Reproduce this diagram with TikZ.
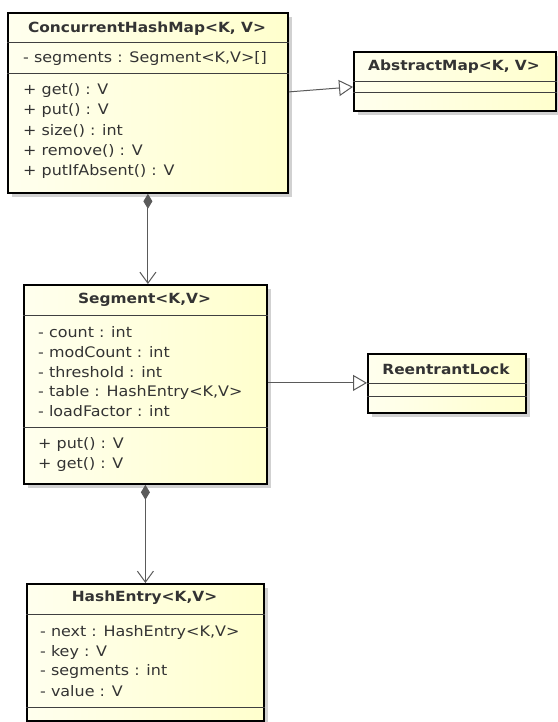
\documentclass[tikz,border=0pt]{standalone}
\usepackage{fontspec}
\setmainfont{DejaVu Sans}
\newfontfamily\umlfont[FakeStretch=1.1]{DejaVu Sans}
\usetikzlibrary{arrows.meta,shadows}
\definecolor{boxl}{RGB}{255,255,238}
\definecolor{boxr}{RGB}{255,255,205}
\definecolor{linec}{RGB}{90,90,90}
\begin{document}
\begin{tikzpicture}[x=1pt,y=-1pt,
  classbox/.style={draw=black, line width=1.8pt, rectangle, inner sep=0pt, anchor=north west,
     left color=boxl, right color=boxr,
     drop shadow={shadow xshift=4pt, shadow yshift=-4pt, fill=black!18, opacity=1}},
  sep/.style={draw=black!75, line width=1pt},
  ttl/.style={font=\umlfont\fontsize{14}{16}\selectfont\bfseries, text=black!80, inner sep=0pt, anchor=center},
  mem/.style={font=\umlfont\fontsize{14.5}{17}\selectfont, text=black!80, inner sep=0pt, anchor=west},
  gen/.style={draw=linec, line width=1pt, -{Triangle[open, length=14pt, width=16pt, line width=1pt]}},
  comp/.style={draw=linec, line width=1pt, {Diamond[length=15pt, width=9pt, fill=linec]}-{Straight Barb[length=11pt, width=16pt, line width=1pt]}}
]
\useasboundingbox[fill=white] (0,0) rectangle (557,722);

% ConcurrentHashMap
\node[classbox, minimum width=280pt, minimum height=180pt] (chm) at (7,12) {};
\draw[sep] (chm.west |- 0,43) -- (chm.east |- 0,43);
\draw[sep] (chm.west |- 0,74) -- (chm.east |- 0,74);
\node[ttl] (chmt) at (147,29) {ConcurrentHashMap<K, V>};
\node[mem] (chm1) at (23,59) {- segments : Segment<K,V>[]};
\node[mem] (chm2) at (23,91) {+ get() : V};
\node[mem] (chm3) at (23,111) {+ put() : V};
\node[mem] (chm4) at (23,131) {+ size() : int};
\node[mem] (chm5) at (23,151) {+ remove() : V};
\node[mem] (chm6) at (23,171) {+ putIfAbsent() : V};

% AbstractMap
\node[classbox, minimum width=202pt, minimum height=59pt] (am) at (353,51) {};
\draw[sep] (am.west |- 0,82) -- (am.east |- 0,82);
\draw[sep] (am.west |- 0,93) -- (am.east |- 0,93);
\node[ttl] (amt) at (454,67) {AbstractMap<K, V>};

% Segment
\node[classbox, minimum width=243pt, minimum height=199pt] (seg) at (23,284) {};
\draw[sep] (seg.west |- 0,315) -- (seg.east |- 0,315);
\draw[sep] (seg.west |- 0,427) -- (seg.east |- 0,427);
\node[ttl] (segt) at (144.5,300) {Segment<K,V>};
\node[mem] (seg1) at (38,332) {- count : int};
\node[mem] (seg2) at (38,352) {- modCount : int};
\node[mem] (seg3) at (38,372) {- threshold : int};
\node[mem] (seg4) at (38,392) {- table : HashEntry<K,V>};
\node[mem] (seg5) at (38,411) {- loadFactor : int};
\node[mem] (seg6) at (38,445) {+ put() : V};
\node[mem] (seg7) at (38,465) {+ get() : V};

% ReentrantLock
\node[classbox, minimum width=158pt, minimum height=59pt] (rl) at (367,353) {};
\draw[sep] (rl.west |- 0,383) -- (rl.east |- 0,383);
\draw[sep] (rl.west |- 0,396) -- (rl.east |- 0,396);
\node[ttl] (rlt) at (446,369) {ReentrantLock};

% HashEntry
\node[classbox, minimum width=237pt, minimum height=137pt] (he) at (26,583) {};
\draw[sep] (he.west |- 0,614) -- (he.east |- 0,614);
\draw[sep] (he.west |- 0,707) -- (he.east |- 0,707);
\node[ttl] (het) at (144.5,598) {HashEntry<K,V>};
\node[mem] (he1) at (40,632) {- next : HashEntry<K,V>};
\node[mem] (he2) at (40,652) {- key : V};
\node[mem] (he3) at (40,671) {- segments : int};
\node[mem] (he4) at (40,691) {- value : V};

% connectors
\draw[gen] ([yshift=11pt]chm.east) -- ([yshift=-5.5pt]am.west);
\draw[gen] ([yshift=1.5pt]seg.east) -- ([yshift=1.5pt]seg.east -| rl.west);
\draw[comp] (chm.south) -- (chm.south |- seg.north);
\draw[comp] (seg.south) -- (he.north);
\end{tikzpicture}
\end{document}
